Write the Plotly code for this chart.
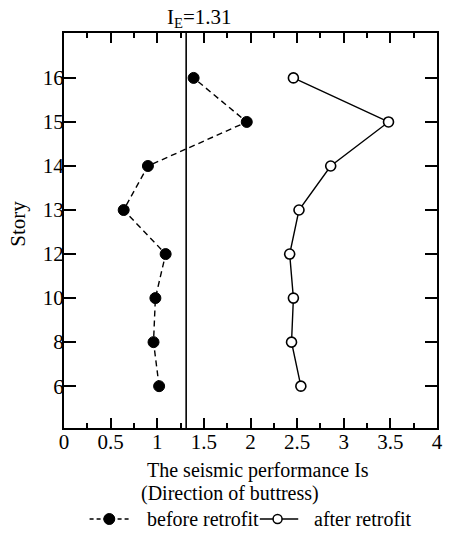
import plotly.graph_objects as go

stories = ["6", "8", "10", "12", "13", "14", "15", "16"]
before = [1.02, 0.96, 0.98, 1.09, 0.64, 0.90, 1.96, 1.39]
after = [2.54, 2.44, 2.46, 2.42, 2.52, 2.86, 3.48, 2.46]
ie_value = 1.31
x_ticks = [0, 0.5, 1, 1.5, 2, 2.5, 3, 3.5, 4]
x_tick_text = ["0", "0.5", "1", "1.5", "2", "2.5", "3", "3.5", "4"]
series_names = ["before retrofit", "after retrofit"]

FONT = "Liberation Serif, Times New Roman, serif"

# plot area in pixels (for placing text / legend)
L, R, T, B = 64, 443, 33, 428
W, H = R - L, B - T


def px(x):
    return (x - L) / W


def py(y):
    return (B - y) / H


fig = go.Figure()
fig.add_trace(go.Scatter(
    x=before, y=stories, mode="lines+markers", name=series_names[0],
    line=dict(color="black", width=1.4, dash="6px,4px"),
    marker=dict(symbol="circle", size=11, color="black", line=dict(color="black", width=1)),
))
fig.add_trace(go.Scatter(
    x=after, y=stories, mode="lines+markers", name=series_names[1],
    line=dict(color="black", width=1.4),
    marker=dict(symbol="circle", size=10, color="white", line=dict(color="black", width=1.6)),
))

fig.add_shape(type="line", xref="x", yref="paper", x0=ie_value, x1=ie_value, y0=0, y1=1,
              line=dict(color="black", width=1.6))
fig.add_annotation(xref="x", yref="paper", x=ie_value, y=1, yanchor="bottom", xanchor="center",
                   xshift=13, yshift=0, showarrow=False,
                   text="I<sub>E</sub>=%.2f" % ie_value, font=dict(family=FONT, size=21, color="black"))

fig.add_annotation(xref="paper", yref="paper", x=px(146), y=py(471),
                   xanchor="left", yanchor="middle", showarrow=False,
                   text="The seismic performance Is", font=dict(family=FONT, size=20, color="black"))
fig.add_annotation(xref="paper", yref="paper", x=px(140), y=py(493),
                   xanchor="left", yanchor="middle", showarrow=False,
                   text="(Direction of buttress)", font=dict(family=FONT, size=20, color="black"))
fig.add_annotation(xref="paper", yref="paper", x=px(17), y=py(224),
                   xanchor="center", yanchor="middle", showarrow=False, textangle=-90,
                   text="Story", font=dict(family=FONT, size=21, color="black"))

# manual legend
LY = 519
fig.add_shape(type="line", xref="paper", yref="paper", x0=px(90), x1=px(130), y0=py(LY), y1=py(LY),
              line=dict(color="black", width=1.4, dash="4px,3px"))
fig.add_shape(type="circle", xref="paper", yref="paper", xsizemode="pixel", ysizemode="pixel",
              xanchor=px(110), yanchor=py(LY), x0=-5.5, x1=5.5, y0=-5.5, y1=5.5,
              fillcolor="black", line=dict(color="black", width=1))
fig.add_annotation(xref="paper", yref="paper", x=px(146), y=py(LY), xanchor="left", yanchor="middle",
                   showarrow=False, text=series_names[0], font=dict(family=FONT, size=20, color="black"))
fig.add_shape(type="line", xref="paper", yref="paper", x0=px(263), x1=px(302), y0=py(LY), y1=py(LY),
              line=dict(color="black", width=1.4))
fig.add_shape(type="circle", xref="paper", yref="paper", xsizemode="pixel", ysizemode="pixel",
              xanchor=px(281), yanchor=py(LY), x0=-4.5, x1=4.5, y0=-4.5, y1=4.5,
              fillcolor="white", line=dict(color="black", width=1.5))
fig.add_annotation(xref="paper", yref="paper", x=px(316), y=py(LY), xanchor="left", yanchor="middle",
                   showarrow=False, text=series_names[1], font=dict(family=FONT, size=20, color="black"))

fig.update_xaxes(
    range=[0, 4], tickvals=x_ticks, ticktext=x_tick_text,
    ticks="inside", ticklen=10, tickwidth=2, tickcolor="black",
    minor=dict(dtick=0.25, ticks="inside", ticklen=5, tickwidth=2, tickcolor="black"),
    showline=True, linewidth=2, linecolor="black", mirror="ticks",
    showgrid=False, zeroline=False, ticklabelstandoff=-6,
    tickfont=dict(family=FONT, size=21, color="black"),
)
fig.update_yaxes(
    type="category", categoryorder="array", categoryarray=stories,
    range=[-0.95, 8.02],
    ticks="inside", ticklen=12, tickwidth=2, tickcolor="black",
    showline=True, linewidth=2, linecolor="black", mirror="ticks",
    showgrid=False, zeroline=False, ticklabelstandoff=-6,
    tickfont=dict(family=FONT, size=21, color="black"),
)

fig.update_layout(
    width=449, height=533,
    margin=dict(l=L, r=449 - R, t=T, b=533 - B),
    plot_bgcolor="white", paper_bgcolor="white",
    font=dict(family=FONT, size=21, color="black"),
    showlegend=False,
)

fig.write_html("out.html")
